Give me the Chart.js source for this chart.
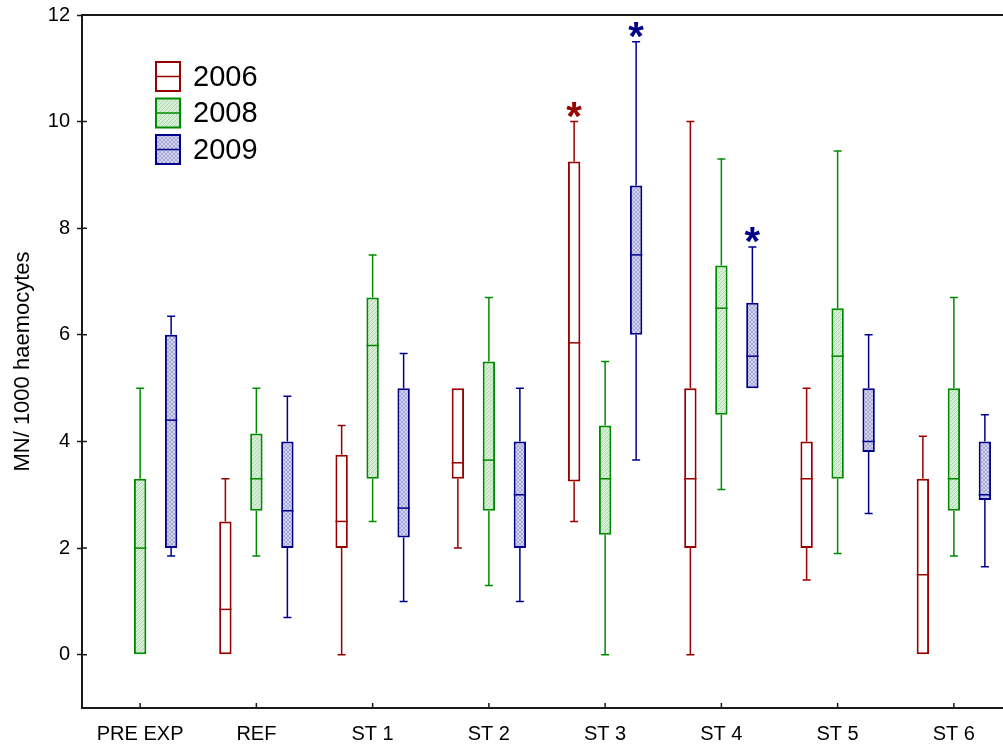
<!DOCTYPE html>
<html>
<head>
<meta charset="utf-8">
<script src="https://cdn.jsdelivr.net/npm/chart.js@4.4.1/dist/chart.umd.min.js"></script>
<style>
  html, body { margin: 0; padding: 0; background: #fff; overflow: hidden; }
  #wrap { width: 1020px; height: 749px; }
</style>
</head>
<body>
<div id="wrap"><canvas id="c" width="1020" height="749"></canvas></div>
<script>
// ---------------- DATA ----------------
const categories = ['PRE EXP', 'REF', 'ST 1', 'ST 2', 'ST 3', 'ST 4', 'ST 5', 'ST 6'];
const seriesNames = ['2006', '2008', '2009'];
const yTickValues = [0, 2, 4, 6, 8, 10, 12];
const yTitle = 'MN/ 1000 haemocytes';

// 2006
const min2006    = [null, 0,    0,    2.0,  2.5,  0,    1.4,  0];
const q1_2006    = [null, 0,    2.0,  3.3,  3.25, 2.0,  2.0,  0];
const med2006    = [null, 0.85, 2.5,  3.6,  5.85, 3.3,  3.3,  1.5];
const q3_2006    = [null, 2.5,  3.75, 5.0,  9.25, 5.0,  4.0,  3.3];
const max2006    = [null, 3.3,  4.3,  5.0,  10.0, 10.0, 5.0,  4.1];
const sig2006    = [0, 0, 0, 0, 1, 0, 0, 0];

// 2008
const min2008    = [0,    1.85, 2.5,  1.3,  0,    3.1,  1.9,  1.85];
const q1_2008    = [0,    2.7,  3.3,  2.7,  2.25, 4.5,  3.3,  2.7];
const med2008    = [2.0,  3.3,  5.8,  3.65, 3.3,  6.5,  5.6,  3.3];
const q3_2008    = [3.3,  4.15, 6.7,  5.5,  4.3,  7.3,  6.5,  5.0];
const max2008    = [5.0,  5.0,  7.5,  6.7,  5.5,  9.3,  9.45, 6.7];
const sig2008    = [0, 0, 0, 0, 0, 0, 0, 0];

// 2009
const min2009    = [1.85, 0.7,  1.0,  1.0,  3.65, 5.0,  2.65, 1.65];
const q1_2009    = [2.0,  2.0,  2.2,  2.0,  6.0,  5.0,  3.8,  2.9];
const med2009    = [4.4,  2.7,  2.75, 3.0,  7.5,  5.6,  4.0,  3.0];
const q3_2009    = [6.0,  4.0,  5.0,  4.0,  8.8,  6.6,  5.0,  4.0];
const max2009    = [6.35, 4.85, 5.65, 5.0,  11.5, 7.65, 6.0,  4.5];
const sig2009    = [0, 0, 0, 0, 1, 1, 0, 0];

// ---------------- STYLE ----------------
const FONT = "'Liberation Sans', Arial, sans-serif";
const colRed = '#990000', colGreen = '#008a00', colBlue = '#00008c';
const AXIS = '#1a1a1a';

function hatch(bg, line, cross) {
  const c = document.createElement('canvas');
  c.width = c.height = 4;
  const g = c.getContext('2d');
  g.fillStyle = bg; g.fillRect(0, 0, 4, 4);
  g.strokeStyle = line; g.lineWidth = 1;
  g.beginPath();
  g.moveTo(0, 4); g.lineTo(4, 0);
  if (cross) { g.moveTo(0, 0); g.lineTo(4, 4); }
  g.stroke();
  return g.createPattern(c, 'repeat');
}
const fillGreen = hatch('#d6edd6', '#add8ad', false);
const fillBlue  = hatch('#d4d4ee', '#a8a8d8', true);

const stats = [
  { min: min2006, q1: q1_2006, med: med2006, q3: q3_2006, max: max2006, sig: sig2006 },
  { min: min2008, q1: q1_2008, med: med2008, q3: q3_2008, max: max2008, sig: sig2008 },
  { min: min2009, q1: q1_2009, med: med2009, q3: q3_2009, max: max2009, sig: sig2009 }
];
const colors = [colRed, colGreen, colBlue];
const fills = ['#ffffff', fillGreen, fillBlue];

const datasets = stats.map((s, k) => ({
  label: seriesNames[k],
  data: s.q1.map((v, i) => (v == null ? null : [v, s.q3[i]])),
  backgroundColor: fills[k],
  borderColor: colors[k],
  borderWidth: 2,
  borderSkipped: false,
  barPercentage: 0.4,
  categoryPercentage: 0.8
}));

// ---------------- PLUGIN: whiskers, medians, stars, frame, legend ----------------
const boxExtras = {
  id: 'boxExtras',
  beforeDatasetsDraw(chart) {
    const ctx = chart.ctx, ys = chart.scales.y;
    ctx.save();
    chart.data.datasets.forEach((ds, k) => {
      const meta = chart.getDatasetMeta(k);
      const s = stats[k];
      ctx.strokeStyle = colors[k];
      ctx.lineWidth = 1.5;
      meta.data.forEach((bar, i) => {
        if (s.med[i] == null) return;
        const x = bar.x;
        const capW = 4;
        const pMax = ys.getPixelForValue(s.max[i]);
        const pQ3 = ys.getPixelForValue(s.q3[i]);
        const pQ1 = ys.getPixelForValue(s.q1[i]);
        const pMin = ys.getPixelForValue(s.min[i]);
        ctx.beginPath();
        if (s.max[i] > s.q3[i]) {
          ctx.moveTo(x, pQ3); ctx.lineTo(x, pMax);
          ctx.moveTo(x - capW, pMax); ctx.lineTo(x + capW, pMax);
        }
        if (s.min[i] < s.q1[i]) {
          ctx.moveTo(x, pQ1); ctx.lineTo(x, pMin);
          ctx.moveTo(x - capW, pMin); ctx.lineTo(x + capW, pMin);
        }
        ctx.stroke();
      });
    });
    ctx.restore();
  },
  afterDatasetsDraw(chart) {
    const ctx = chart.ctx, ys = chart.scales.y, xs = chart.scales.x;
    const area = chart.chartArea;
    ctx.save();
    // medians and significance stars
    chart.data.datasets.forEach((ds, k) => {
      const meta = chart.getDatasetMeta(k);
      const s = stats[k];
      meta.data.forEach((bar, i) => {
        if (s.med[i] == null) return;
        const x = bar.x, hw = bar.width / 2;
        const pMed = ys.getPixelForValue(s.med[i]);
        ctx.strokeStyle = colors[k];
        ctx.lineWidth = 1.5;
        ctx.beginPath();
        ctx.moveTo(x - hw, pMed); ctx.lineTo(x + hw, pMed);
        ctx.stroke();
        if (s.sig[i]) {
          const pMax = ys.getPixelForValue(s.max[i]);
          ctx.font = 'bold 40px ' + FONT;
          ctx.fillStyle = colors[k];
          ctx.textAlign = 'center';
          ctx.textBaseline = 'alphabetic';
          const m = ctx.measureText('*');
          const cy = pMax - 12;
          const yb = cy + (m.actualBoundingBoxAscent - m.actualBoundingBoxDescent) / 2;
          ctx.fillText('*', x, yb);
        }
      });
    });
    // frame: top and right lines
    ctx.strokeStyle = AXIS;
    ctx.lineWidth = 2;
    ctx.beginPath();
    ctx.moveTo(area.left, area.top); ctx.lineTo(area.right, area.top); ctx.lineTo(area.right, area.bottom);
    ctx.stroke();
    // inward tick marks
    ctx.lineWidth = 1.5;
    ctx.beginPath();
    xs.ticks.forEach((t, i) => {
      const px = xs.getPixelForTick(i);
      ctx.moveTo(px, area.bottom); ctx.lineTo(px, area.bottom - 5);
    });
    ys.ticks.forEach((t, i) => {
      const py = ys.getPixelForValue(t.value);
      ctx.moveTo(area.left, py); ctx.lineTo(area.left + 5, py);
    });
    ctx.stroke();
    // legend
    const lx = area.left + 74, ly = area.top + 47, bw = 24, bh = 29, step = 36.5;
    chart.data.datasets.forEach((ds, k) => {
      const top = ly + k * step;
      ctx.fillStyle = ds.backgroundColor;
      ctx.fillRect(lx, top, bw, bh);
      ctx.strokeStyle = ds.borderColor;
      ctx.lineWidth = 2;
      ctx.strokeRect(lx, top, bw, bh);
      ctx.lineWidth = 1.5;
      ctx.beginPath();
      ctx.moveTo(lx, top + bh / 2); ctx.lineTo(lx + bw, top + bh / 2);
      ctx.stroke();
      ctx.fillStyle = '#000';
      ctx.font = '29px ' + FONT;
      ctx.textAlign = 'left';
      ctx.textBaseline = 'middle';
      ctx.fillText(ds.label, lx + 37, top + bh / 2 + 1);
    });
    ctx.restore();
  }
};

new Chart(document.getElementById('c'), {
  type: 'bar',
  data: { labels: categories, datasets },
  options: {
    responsive: false,
    animation: false,
    events: [],
    layout: { padding: { top: 15, right: 8, left: 0, bottom: 0 } },
    plugins: { legend: { display: false }, tooltip: { enabled: false } },
    scales: {
      x: {
        grid: { drawOnChartArea: false, tickLength: 10, tickColor: 'rgba(0,0,0,0)' },
        border: { color: AXIS, width: 2 },
        ticks: { color: '#000', font: { family: FONT, size: 20 }, padding: 4, maxRotation: 0, autoSkip: false },
        afterFit(scale) { scale.height = 41; }
      },
      y: {
        min: -1,
        max: 12,
        afterBuildTicks(scale) { scale.ticks = yTickValues.map(v => ({ value: v })); },
        grid: { drawOnChartArea: false, tickLength: 5, tickColor: AXIS, tickWidth: 1.5 },
        border: { color: AXIS, width: 2 },
        ticks: { color: '#000', font: { family: FONT, size: 20 }, padding: 7 },
        title: { display: true, text: yTitle, color: '#000', font: { family: FONT, size: 22 }, padding: { top: 10, bottom: 0 } },
        afterFit(scale) { scale.width = 82; scale.paddingTop = 0; scale.paddingBottom = 0; }
      }
    }
  },
  plugins: [boxExtras]
});
</script>
</body>
</html>
